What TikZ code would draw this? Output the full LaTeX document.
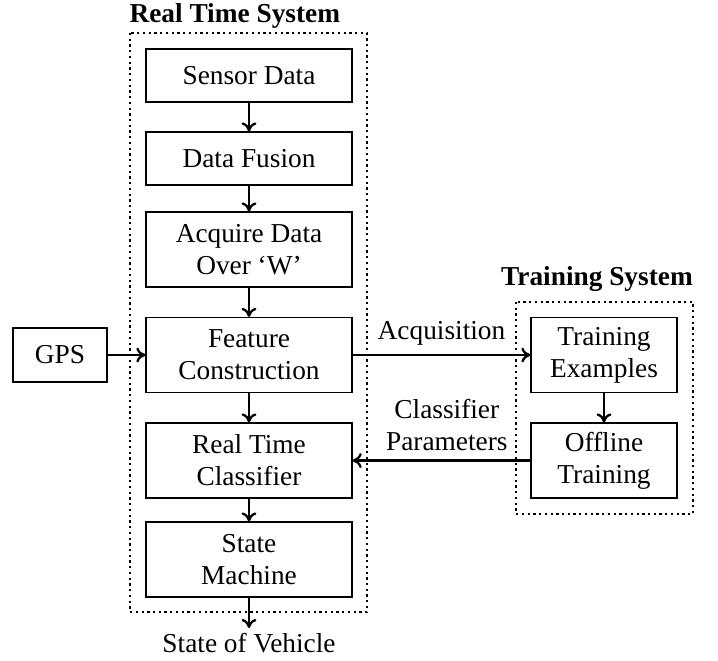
\documentclass[tikz,border=0pt]{standalone}
\usepackage{fontspec}
\setmainfont{Liberation Serif}
\usetikzlibrary{arrows.meta}
\begin{document}
\begin{tikzpicture}[x=0.375pt,y=-0.375pt,
  font=\fontsize{10.25}{12}\selectfont,
  blk/.style={draw, line width=0.45pt, align=center, inner sep=0pt,
    minimum width={206*0.375pt}},
  one/.style={minimum height={53*0.375pt}},
  two/.style={minimum height={75*0.375pt}},
  trn/.style={draw, line width=0.45pt, align=center, inner sep=0pt,
    minimum width={146*0.375pt}, minimum height={75*0.375pt}},
  flow/.style={-{To[length=3.4pt,width=5.6pt]}, line width=0.85pt},
  frame/.style={line width=0.85pt, dash pattern=on 0.85pt off 1.3pt},
  ttl/.style={font=\fontsize{10.25}{12}\selectfont\bfseries, inner sep=0pt}]
\useasboundingbox (0,0) rectangle (718,660);

% real time chain
\node[blk,one] (sensor)  at (249,75.5)  {Sensor Data};
\node[blk,one] (fusion)  at (249,158.5) {Data Fusion};
\node[blk,two] (acquire) at (249,249.5) {Acquire Data\\Over `W'};
\node[blk,two] (feature) at (249,355)   {Feature\\Construction};
\node[blk,two] (classif) at (249,460.5) {Real Time\\Classifier};
\node[blk,two] (state)   at (249,559.5) {State\\Machine};

% external input
\node[draw, line width=0.45pt, minimum width={94*0.375pt},
  minimum height={54*0.375pt}, inner sep=0pt] (gps) at (60,355) {GPS};

% training chain
\node[trn] (examples) at (604,355)   {Training\\Examples};
\node[trn] (offline)  at (604,460.5) {Offline\\Training};

% system frames
\draw[frame] (130,33) rectangle (367,612);
\draw[frame] (516,302) rectangle (693,514);
\node[ttl, anchor=base west] (rtstitle) at (129,22) {Real Time System};
\node[ttl, anchor=base] (tstitle) at (597,285) {Training System};

% output
\coordinate (out) at (249,628);
\node[inner sep=0pt, anchor=base] (vehicle) at (249,652) {State of Vehicle};

% connectors
\draw[flow] (sensor) -- (fusion);
\draw[flow] (fusion) -- (acquire);
\draw[flow] (acquire) -- (feature);
\draw[flow] (feature) -- (classif);
\draw[flow] (classif) -- (state);
\draw[flow] (state) -- (out);
\draw[flow] (gps) -- (feature);
\draw[flow] (examples) -- (offline);
\draw[flow] (feature.east) -- (examples.west)
  node[pos=0.5, above=3.3pt, inner sep=0pt] (acqlabel) {Acquisition};
\draw[flow] (offline.west) -- (classif.east)
  node[pos=0.47, above=3.3pt, inner sep=0pt, align=center] (paramlabel) {Classifier\\Parameters};
\end{tikzpicture}
\end{document}
